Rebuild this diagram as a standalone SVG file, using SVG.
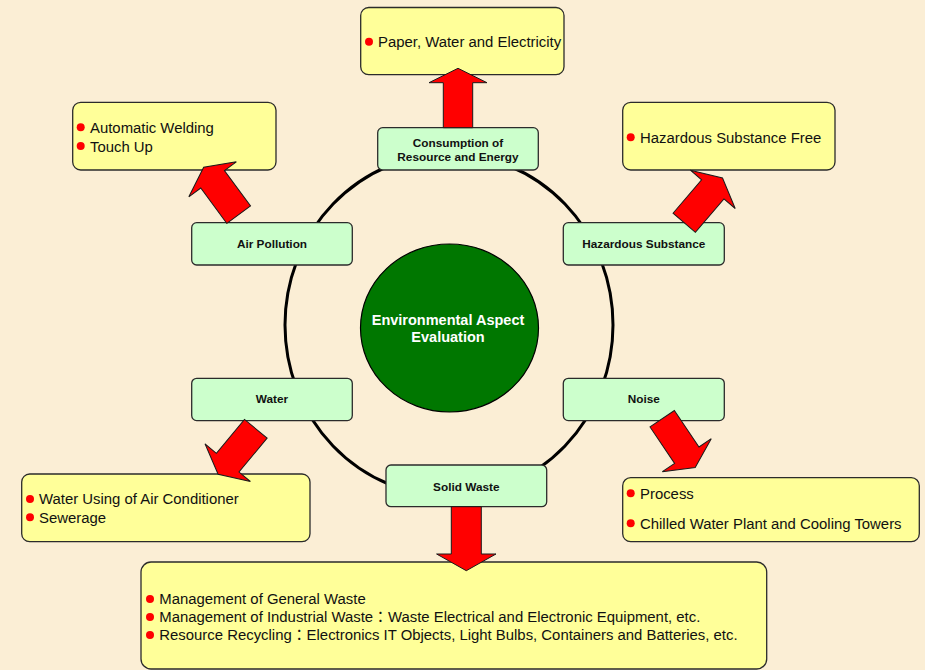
<svg xmlns="http://www.w3.org/2000/svg" width="925" height="670" viewBox="0 0 925 670">
  <style>
    .bg { fill: #FBEED5; }
    .out { fill: #FFFF99; stroke: #2b2b2b; stroke-width: 1.3; }
    .asp { fill: #CCFFCC; stroke: #2b2b2b; stroke-width: 1.3; }
    .ring { fill: none; stroke: #000; stroke-width: 3; }
    .core { fill: #007700; stroke: #000; stroke-width: 1.2; }
    .arrow { fill: #FF0000; stroke: #1a1a1a; stroke-width: 1; stroke-linejoin: miter; }
    .dot { fill: #FF0000; }
    .item { font-family: "Liberation Sans", Arial, "Noto Sans CJK TC", sans-serif; font-size: 14.9px; fill: #111; }
    .lbl { font-family: "Liberation Sans", Arial, sans-serif; font-size: 11.8px; font-weight: bold; fill: #111; text-anchor: middle; }
    .title { font-family: "Liberation Sans", Arial, sans-serif; font-size: 14.5px; font-weight: bold; fill: #fff; text-anchor: middle; }
  </style>
  <defs>
    <!-- standard block arrow pointing along +x, tail at origin -->
    <path id="blockArrow" d="M0,-14.7 L44,-14.7 L44,-29.5 L59,0 L44,29.5 L44,14.7 L0,14.7 Z"/>
  </defs>

  <rect class="bg" x="0" y="0" width="925" height="670"/>

  <!-- ring linking the aspects -->
  <ellipse id="ring" class="ring" cx="449" cy="325" rx="164" ry="171"/>

  <!-- centre -->
  <g id="evaluation">
    <ellipse class="core" cx="449.5" cy="328" rx="89" ry="84"/>
    <text class="title" x="448" y="325">Environmental Aspect</text>
    <text class="title" x="448" y="342">Evaluation</text>
  </g>

  <!-- aspects -->
  <g id="consumption">
    <rect class="asp" x="377.7" y="127.7" width="160.6" height="42.3" rx="5"/>
    <text class="lbl" x="458" y="146.7">Consumption of</text>
    <text class="lbl" x="458" y="160.5">Resource and Energy</text>
  </g>
  <g id="air-pollution">
    <rect class="asp" x="191.7" y="222.7" width="160.6" height="42.3" rx="5"/>
    <text class="lbl" x="272" y="248.3">Air Pollution</text>
  </g>
  <g id="hazardous-substance">
    <rect class="asp" x="563.3" y="222.7" width="161" height="42.3" rx="5"/>
    <text class="lbl" x="643.8" y="248.3">Hazardous Substance</text>
  </g>
  <g id="water">
    <rect class="asp" x="191.7" y="378.3" width="160.6" height="42.3" rx="5"/>
    <text class="lbl" x="272" y="403.3">Water</text>
  </g>
  <g id="noise">
    <rect class="asp" x="563.3" y="378.3" width="161" height="42.3" rx="5"/>
    <text class="lbl" x="643.8" y="403.3">Noise</text>
  </g>
  <g id="solid-waste">
    <rect class="asp" x="386" y="465" width="160.7" height="41.7" rx="5"/>
    <text class="lbl" x="466.3" y="490.7">Solid Waste</text>
  </g>

  <!-- outcomes -->
  <g id="paper-water-electricity">
    <rect class="out" x="360.7" y="7.5" width="203.3" height="67.2" rx="8"/>
    <circle class="dot" cx="369" cy="41.7" r="4"/>
    <text class="item" x="378" y="46.8">Paper, Water and Electricity</text>
  </g>
  <g id="welding">
    <rect class="out" x="72.7" y="102.3" width="203.3" height="67.7" rx="8"/>
    <circle class="dot" cx="80.7" cy="127.3" r="4"/>
    <text class="item" x="90" y="132.5">Automatic Welding</text>
    <circle class="dot" cx="80.7" cy="146" r="4"/>
    <text class="item" x="90" y="151.5">Touch Up</text>
  </g>
  <g id="hazardous-free">
    <rect class="out" x="622.7" y="102.3" width="212.3" height="67.7" rx="8"/>
    <circle class="dot" cx="630.7" cy="137.3" r="4"/>
    <text class="item" x="640" y="142.7">Hazardous Substance Free</text>
  </g>
  <g id="water-use">
    <rect class="out" x="21.7" y="474" width="288.3" height="67.7" rx="8"/>
    <circle class="dot" cx="30" cy="499" r="4"/>
    <text class="item" x="39" y="504.3">Water Using of Air Conditioner</text>
    <circle class="dot" cx="30" cy="517.3" r="4"/>
    <text class="item" x="39" y="522.7">Sewerage</text>
  </g>
  <g id="noise-sources">
    <rect class="out" x="622.7" y="477.7" width="296.6" height="64" rx="8"/>
    <circle class="dot" cx="630.7" cy="493.3" r="4"/>
    <text class="item" x="640" y="499">Process</text>
    <circle class="dot" cx="630.7" cy="523.3" r="4"/>
    <text class="item" x="640" y="529">Chilled Water Plant and Cooling Towers</text>
  </g>
  <g id="waste-management">
    <rect class="out" x="141" y="562" width="625.7" height="107" rx="10"/>
    <circle class="dot" cx="150" cy="599" r="4"/>
    <text class="item" x="159.3" y="604.3">Management of General Waste</text>
    <circle class="dot" cx="150" cy="617" r="4"/>
    <text class="item" x="159.3" y="622">Management of Industrial Waste：Waste Electrical and Electronic Equipment, etc.</text>
    <circle class="dot" cx="150" cy="635" r="4"/>
    <text class="item" x="159.3" y="640">Resource Recycling：Electronics IT Objects, Light Bulbs, Containers and Batteries, etc.</text>
  </g>

  <!-- connectors: block arrows from each aspect to its outcome -->
  <g id="connectors">
    <path class="arrow" d="M0,-14.7 L45,-14.7 L45,-29 L59.4,0 L45,29 L45,14.7 L0,14.7 Z" transform="translate(458,127.7) rotate(-90)"/>
    <use class="arrow" href="#blockArrow" transform="translate(238.7,214.7) rotate(-126.4)"/>
    <use class="arrow" href="#blockArrow" transform="translate(684.2,222.8) rotate(-49.5)"/>
    <use class="arrow" href="#blockArrow" transform="translate(255.8,428.8) rotate(129.7)"/>
    <use class="arrow" href="#blockArrow" transform="translate(662.2,418.7) rotate(56)"/>
    <path class="arrow" d="M0,-15 L47.3,-15 L47.3,-29.7 L64,0 L47.3,29.7 L47.3,15 L0,15 Z" transform="translate(466.3,506.7) rotate(90)"/>
  </g>
</svg>
